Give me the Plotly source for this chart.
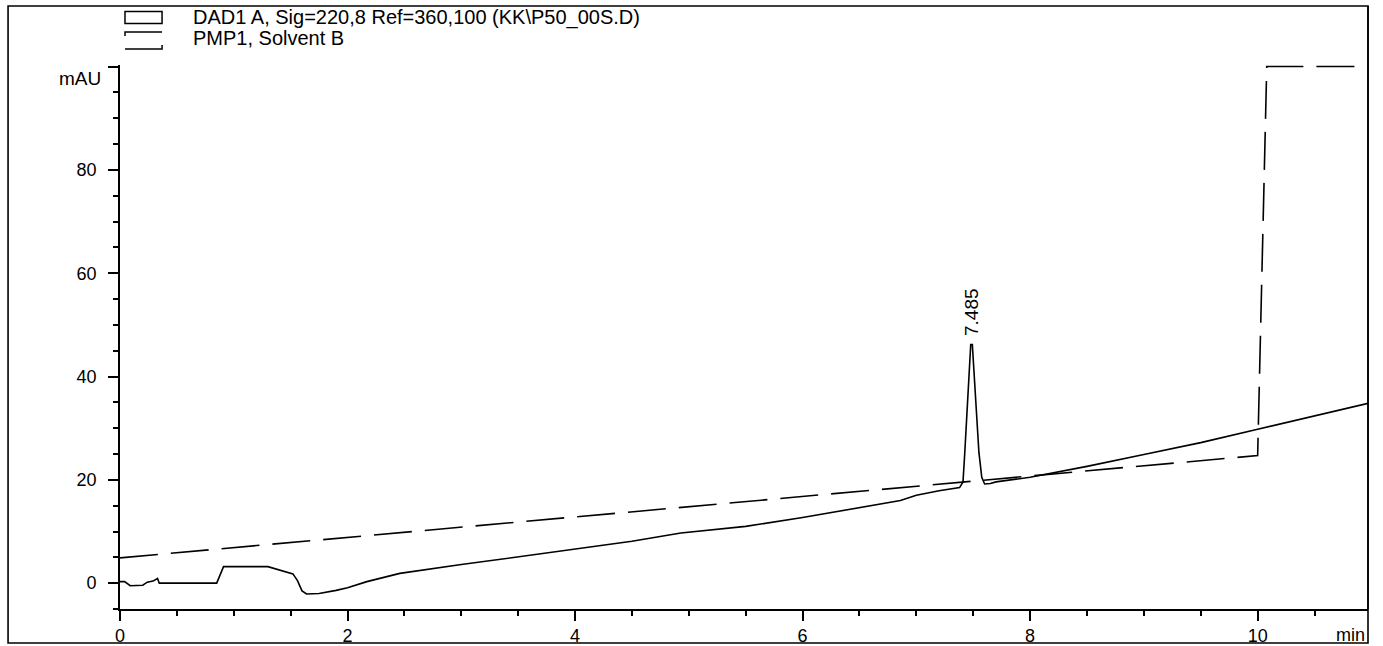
import plotly.graph_objects as go

# ---- data ----
signal_time = [0, 0.04, 0.09, 0.2, 0.24, 0.29, 0.33, 0.345, 0.85, 0.87, 0.91, 1.30, 1.36, 1.45,
               1.52, 1.56, 1.60, 1.64, 1.75, 1.9, 2.0, 2.17, 2.46, 3.0, 3.34, 4.0, 4.5, 4.93,
               5.5, 6.0, 6.5, 6.86, 7.0, 7.2, 7.38, 7.41, 7.425, 7.445, 7.465, 7.478, 7.492,
               7.505, 7.525, 7.55, 7.575, 7.6, 7.65, 7.7, 8.0, 8.5, 9.0, 9.5, 10.0, 10.5, 10.97]
signal_mau = [0.3, 0.3, -0.5, -0.4, 0.2, 0.4, 0.9, 0.0, 0.0, 1.2, 3.2, 3.2, 2.8, 2.3,
              1.8, 0.5, -1.5, -2.1, -2.0, -1.4, -0.9, 0.3, 1.9, 3.6, 4.6, 6.6, 8.1, 9.7,
              11.0, 12.7, 14.6, 16.0, 17.0, 17.9, 18.5, 19.6, 25.0, 33.0, 41.5, 46.2, 46.2,
              41.7, 33.4, 25.3, 20.5, 19.2, 19.3, 19.6, 20.5, 22.6, 24.9, 27.2, 29.8, 32.3, 34.8]

solvent_time = [0, 10.0, 10.08, 10.97]
solvent_pct = [4.9, 24.7, 100, 100]

peak_time = 7.485
peak_height = 46.2
peak_label = "7.485"

signal_name = "DAD1 A, Sig=220,8 Ref=360,100 (KK\\P50_00S.D)"
solvent_name = "PMP1, Solvent B"

x_ticks = [0, 2, 4, 6, 8, 10]
y_ticks = [0, 20, 40, 60, 80, 100]
y_ticktext = ["0", "20", "40", "60", "80", ""]

FONT = "Liberation Sans, Arial, sans-serif"

fig = go.Figure()
fig.add_trace(go.Scatter(x=signal_time, y=signal_mau, mode="lines",
                         line=dict(color="black", width=1.6), name=signal_name))
fig.add_trace(go.Scatter(x=solvent_time, y=solvent_pct, mode="lines",
                         line=dict(color="black", width=1.6, dash="38px,13px"),
                         name=solvent_name))

fig.update_layout(
    width=1383, height=646,
    margin=dict(l=120, r=15, t=65, b=37),
    paper_bgcolor="white", plot_bgcolor="white",
    showlegend=False,
    font=dict(family=FONT, size=18, color="black"),
)
fig.update_xaxes(
    range=[0, 10.97], showgrid=False, zeroline=False, automargin=False,
    showline=True, linecolor="black", linewidth=1.6,
    tickmode="array", tickvals=x_ticks, ticktext=[str(v) for v in x_ticks],
    ticks="outside", ticklen=10, tickwidth=1.5, tickcolor="black",
    minor=dict(dtick=0.5, tick0=0, ticks="outside", ticklen=5, tickwidth=1.5, tickcolor="black"),
    tickfont=dict(size=18, family=FONT),
)
fig.update_yaxes(
    range=[-5, 100.3], showgrid=False, zeroline=False, automargin=False,
    showline=True, linecolor="black", linewidth=1.6,
    tickmode="array", tickvals=y_ticks, ticktext=y_ticktext,
    ticks="outside", ticklen=10, tickwidth=1.5, tickcolor="black",
    ticklabelstandoff=8,
    minor=dict(dtick=5, tick0=0, ticks="outside", ticklen=5, tickwidth=1.5, tickcolor="black"),
    tickfont=dict(size=18, family=FONT),
)

# outer frame
fig.add_shape(type="rect", xref="paper", yref="paper",
              x0=-0.0897, x1=1.0, y0=-0.0625, y1=1.1085,
              line=dict(color="black", width=1.6))
# right border of plot
fig.add_shape(type="line", xref="paper", yref="paper", x0=1, x1=1, y0=0, y1=1.1085,
              line=dict(color="black", width=1.6))

# legend symbols
fig.add_shape(type="rect", xref="paper", yref="paper",
              x0=0.004, x1=0.0337, y0=1.0763, y1=1.0984,
              line=dict(color="black", width=1.5))
fig.add_shape(type="path", xref="paper", yref="paper",
              path="M 0.004,1.0533 L 0.004,1.0607 L 0.0337,1.0607",
              line=dict(color="black", width=1.5))
fig.add_shape(type="path", xref="paper", yref="paper",
              path="M 0.004,1.0294 L 0.0337,1.0294 L 0.0337,1.0368",
              line=dict(color="black", width=1.5))

annotations = [
    dict(text=signal_name, xref="paper", yref="paper", x=0.0565, y=1.0882,
         xanchor="left", yanchor="middle", showarrow=False, font=dict(size=20)),
    dict(text=solvent_name, xref="paper", yref="paper", x=0.0565, y=1.0496,
         xanchor="left", yanchor="middle", showarrow=False, font=dict(size=20)),
    dict(text="mAU", xref="paper", yref="paper", x=-0.014, y=0.976,
         xanchor="right", yanchor="middle", showarrow=False, font=dict(size=19)),
    dict(text="min", xref="paper", yref="paper", x=0.999, y=-0.048,
         xanchor="right", yanchor="middle", showarrow=False, font=dict(size=18)),
    dict(text=peak_label, xref="x", yref="y", x=peak_time, y=peak_height,
         xanchor="center", yanchor="bottom", yshift=6, textangle=-90,
         showarrow=False, font=dict(size=19)),
]
fig.update_layout(annotations=annotations)

fig.write_html("out.html", config={"displayModeBar": False},
               post_script="document.body.style.margin='0px';document.body.style.overflow='hidden';")
